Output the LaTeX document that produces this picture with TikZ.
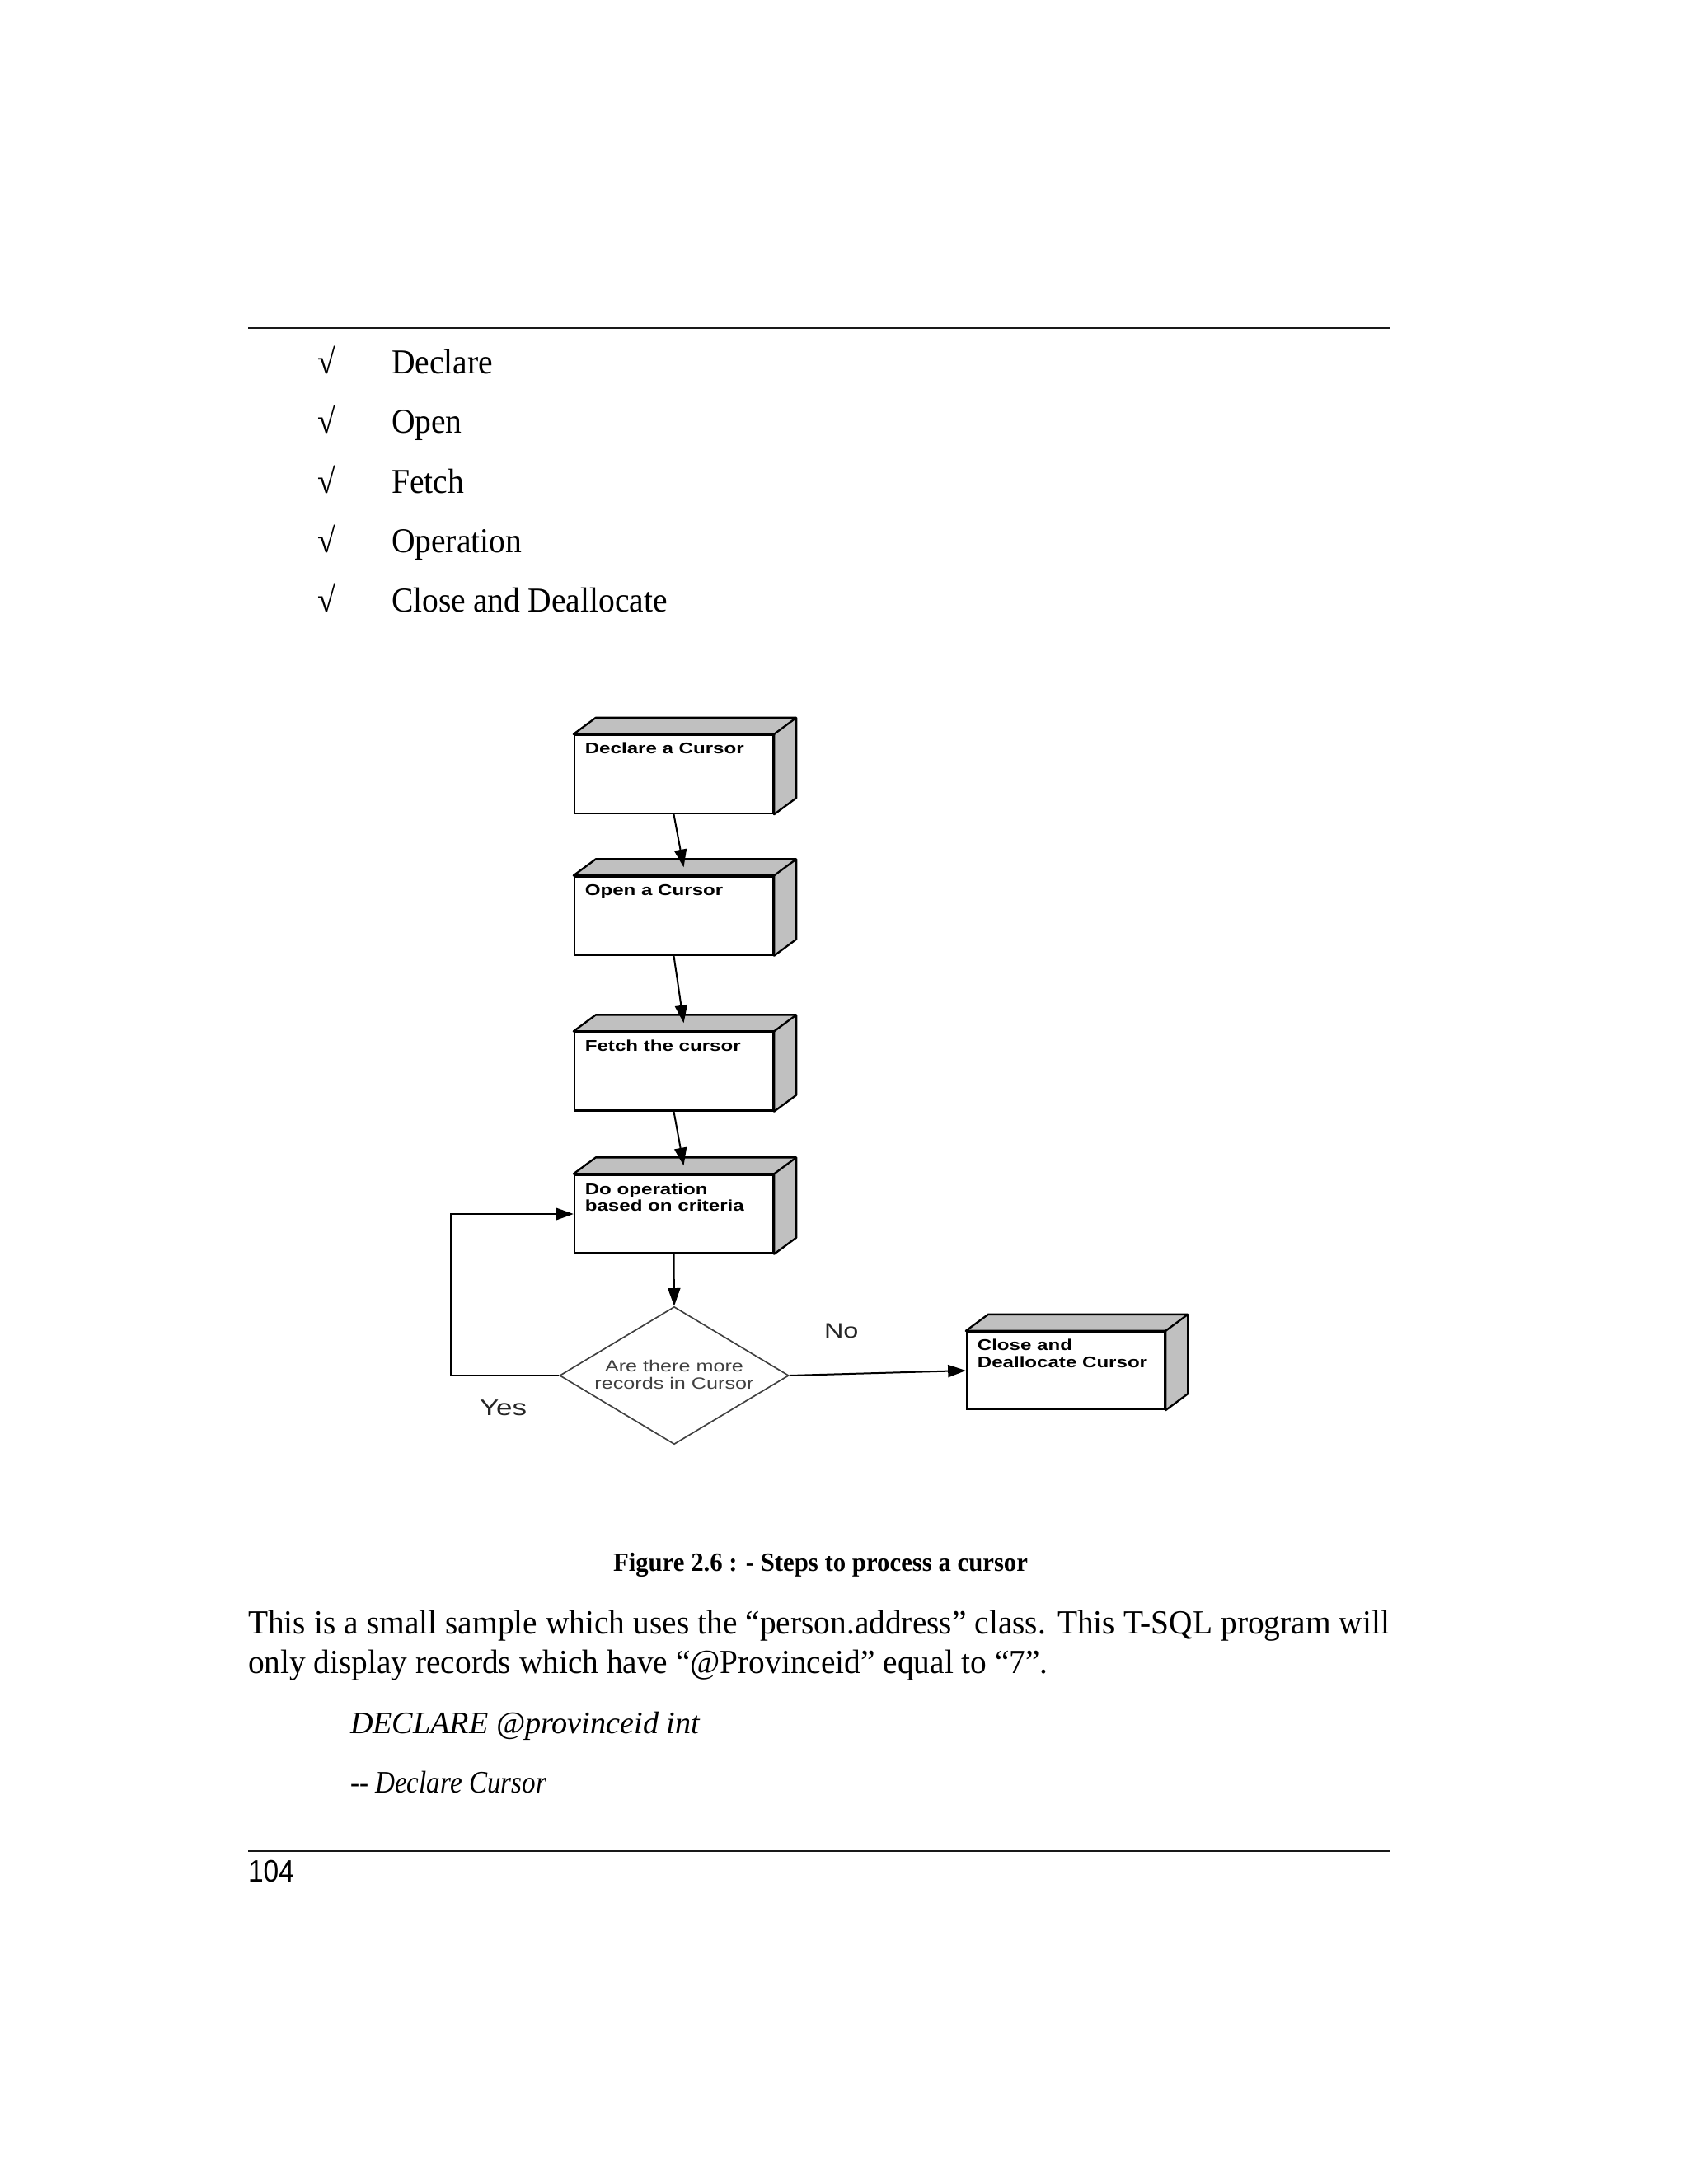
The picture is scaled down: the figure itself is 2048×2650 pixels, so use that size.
\documentclass[tikz,border=0pt]{standalone}
\usepackage{fontspec}
\usepackage{graphicx}
\usetikzlibrary{arrows.meta,shapes.geometric,calc}
\setmainfont{Liberation Serif}[FakeStretch=0.96]
\newfontfamily\listfont{Liberation Serif}[FakeStretch=0.935]
\newfontfamily\codefont{Liberation Serif}
\newfontfamily\diagfont{Liberation Sans}[FakeStretch=1.28]
\newfontfamily\numfont{Liberation Sans}
\definecolor{facegray}{RGB}{192,192,192}
\newlength\pxu \setlength\pxu{0.3pt}
\newcommand{\fitw}[2]{\resizebox{#1\pxu}{\height}{#2}}
\newcommand{\cubefaces}[1]{%
  \draw[face] (#1.north west) -- ++(27,-20) -- ($(#1.north east)+(27,-20)$)
     -- ($(#1.south east)+(27,-20)$) -- (#1.south east) -- (#1.north east) -- cycle;
  \draw[face] (#1.north east) -- ++(27,-20);}
\tikzset{
  txt/.style={inner sep=0pt, outer sep=0pt, anchor=base west},
  listtxt/.style={txt, font=\listfont\fontsize{12.7pt}{15pt}\selectfont},
  box/.style={draw=black, line width=0.7pt, fill=white, minimum width=72.3pt,
     minimum height=28.5pt, inner sep=0pt},
  face/.style={draw=black, line width=0.7pt, fill=facegray, line join=round},
  boxtext/.style={txt, font=\diagfont\bfseries\fontsize{5.65pt}{6pt}\selectfont},
  diatext/.style={inner sep=0pt, anchor=base, text=black!75,
     font=\diagfont\fontsize{5.9pt}{6pt}\selectfont},
  lbl/.style={txt, text=black!85, font=\diagfont\fontsize{8.2pt}{9pt}\selectfont},
  dia/.style={diamond, draw=black!75, line width=0.5pt, minimum width=83.4pt,
     minimum height=50.1pt, inner sep=0pt, fill=white},
  arr/.style={line width=0.6pt, -{Triangle[length=6.5pt,width=4.5pt]}},
  rulestyle/.style={line width=0.8pt, black!90},
}
\begin{document}
\begin{tikzpicture}[x=0.3pt,y=-0.3pt]
\useasboundingbox (0,0) rectangle (2048,2650);
\fill[white] (0,0) rectangle (2048,2650);

% rules
\draw[rulestyle] (301,398) coordinate (r1a) -- (1686,398) coordinate (r1b);
\draw[rulestyle] (301,2246) coordinate (r2a) -- (1686,2246) coordinate (r2b);

% list
\node[listtxt] (c1) at (385,453) {√};
\node[listtxt] (c2) at (385,525) {√};
\node[listtxt] (c3) at (385,598) {√};
\node[listtxt] (c4) at (385,670) {√};
\node[listtxt] (c5) at (385,742) {√};
\node[listtxt] (l1) at (475,453) {Declare};
\node[listtxt] (l2) at (475,525) {Open};
\node[listtxt] (l3) at (475,598) {Fetch};
\node[listtxt] (l4) at (475,670) {Operation};
\node[listtxt] (l5) at (475,742) {\makebox[335\pxu][s]{Close and Deallocate}};

% boxes
\node[box] (decl) at (817.5,939.5) {};
\node[box] (open) at (817.5,1111) {};
\node[box] (fetch) at (817.5,1300) {};
\node[box] (doop) at (817.5,1473) {};
\node[box, minimum width=72pt, minimum height=28.2pt] (close) at (1293,1663) {};
\cubefaces{decl}
\cubefaces{open}
\cubefaces{fetch}
\cubefaces{doop}
\cubefaces{close}

\node[boxtext] (declT) at ($(decl.north west)+(14,24)$) {Declare a Cursor};
\node[boxtext] (openT) at ($(open.north west)+(14,24)$) {Open a Cursor};
\node[boxtext] (fetchT) at ($(fetch.north west)+(14,24)$) {Fetch the cursor};
\node[boxtext] (doopT1) at ($(doop.north west)+(14,25)$) {Do operation};
\node[boxtext] (doopT2) at ($(doop.north west)+(14,45)$) {based on criteria};
\node[boxtext] (closeT1) at ($(close.north west)+(14,24)$) {Close and};
\node[boxtext] (closeT2) at ($(close.north west)+(14,45)$) {Deallocate Cursor};

% decision
\node[dia] (dec) at (818,1669) {};
\node[diatext] (decT1) at (818,1664) {Are there more};
\node[diatext] (decT2) at (818,1685) {records in Cursor};

% connectors
\coordinate (openIn) at ($(open.north)+(12,-10)$);
\coordinate (fetchIn) at ($(fetch.north)+(12,-10)$);
\coordinate (doopIn) at ($(doop.north)+(12,-10)$);
\draw[arr] (decl.south) -- (openIn);
\draw[arr] (open.south) -- (fetchIn);
\draw[arr] (fetch.south) -- (doopIn);
\draw[arr] (doop.south) -- (dec.north);
\draw[arr] (dec.east) -- (close.west);
\draw[arr] (dec.west) -- ++(-131,0) |- (doop.west);

\node[lbl] (yes) at (582,1717) {Yes};
\node[lbl, font=\diagfont\fontsize{7.6pt}{9pt}\selectfont] (no) at (1000,1623) {No};

% caption and text
\node[txt, font=\fontsize{9.6pt}{11pt}\selectfont] (cap) at (744,1906)
  {\fitw{503}{\bfseries Figure 2.6 : - Steps to process a cursor}};
\node[txt, font=\fontsize{12.3pt}{14pt}\selectfont] (p1) at (301,1982)
  {\makebox[1385\pxu][s]{This is a small sample which uses the “person.address” class. This T-SQL program will}};
\node[txt, font=\fontsize{12.3pt}{14pt}\selectfont] (p2) at (301,2030)
  {only display records which have “@Provinceid” equal to “7”.};
\node[txt, font=\codefont\itshape\fontsize{11.4pt}{13pt}\selectfont] (code1) at (425,2103)
  {\fitw{424}{DECLARE @provinceid int}};
\node[txt, font=\codefont\itshape\fontsize{11.4pt}{13pt}\selectfont] (code2) at (425,2175)
  {\fitw{238}{-{}- Declare Cursor}};
\node[txt, font=\numfont\fontsize{11.3pt}{13pt}\selectfont] (pg) at (301,2283)
  {\fitw{56}{104}};
\end{tikzpicture}
\end{document}
